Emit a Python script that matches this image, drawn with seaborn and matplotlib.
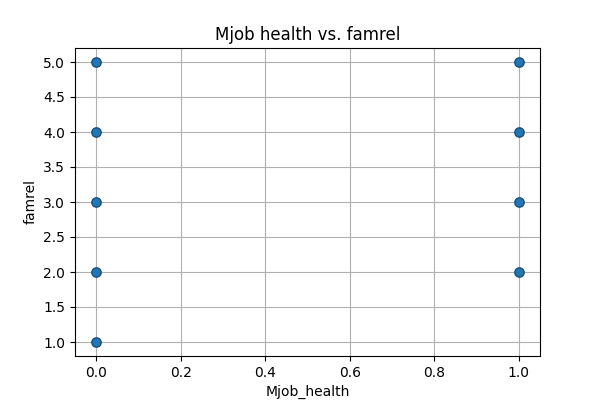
import matplotlib
matplotlib.use("Agg")
import matplotlib.pyplot as plt
import seaborn as sns
import pandas as pd

# distinct (Mjob_health, famrel) pairs seen in the plot
mjob_health = [0, 0, 0, 0, 0, 1, 1, 1, 1]
famrel = [1, 2, 3, 4, 5, 2, 3, 4, 5]

df = pd.DataFrame({'Mjob_health': mjob_health, 'famrel': famrel})

fig, ax = plt.subplots(figsize=(6, 4), dpi=100)
sns.scatterplot(x='Mjob_health', y='famrel', data=df, ax=ax,
                color='#1f77b4', s=45, edgecolor='#1a4f7a', linewidth=1.0)
ax.set_title('Mjob health vs. famrel')
ax.set_xlabel('Mjob_health')
ax.set_ylabel('famrel')
ax.grid(True)
ax.set_axisbelow(True)
plt.savefig('out.png')
plt.close()
